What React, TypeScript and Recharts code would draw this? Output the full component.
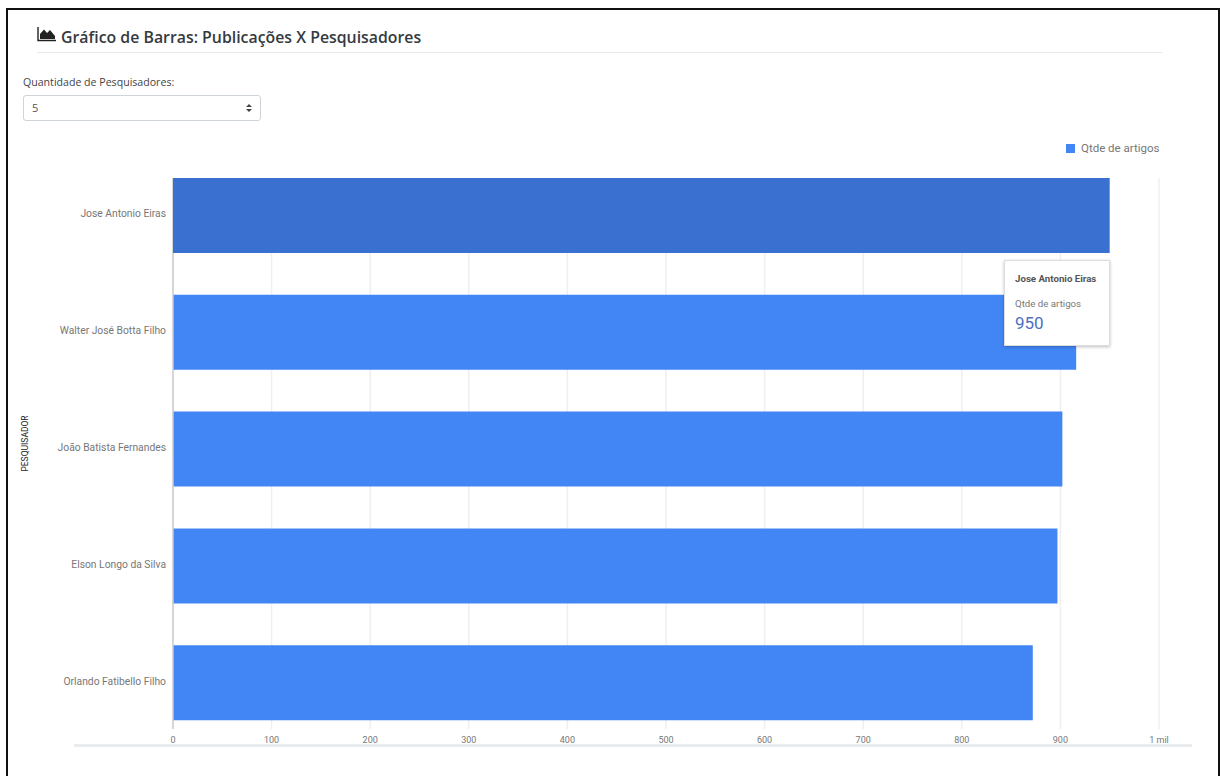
import React from "react";
import {
  BarChart,
  Bar,
  CartesianGrid,
  Legend,
  Tooltip,
  XAxis,
  YAxis,
} from "recharts";

const researchers = [
  "Jose Antonio Eiras",
  "Walter José Botta Filho",
  "João Batista Fernandes",
  "Elson Longo da Silva",
  "Orlando Fatibello Filho",
];
const articleCounts = [950, 916, 902, 897, 872];
const xTicks = [0, 100, 200, 300, 400, 500, 600, 700, 800, 900, 1000];

const SERIES_NAME = "Qtde de artigos";
const data = researchers.map((name, i) => ({
  name,
  [SERIES_NAME]: articleCounts[i],
}));

const formatTick = (v: number) => (v >= 1000 ? `${v / 1000} mil` : `${v}`);

// single-line names, the default tick wraps the longer ones
const NameTick = ({ x, y, payload }: any) => (
  <text
    x={x}
    y={y}
    dx={-1}
    dy={2}
    textAnchor="end"
    fontSize={10.3}
    fill="#777"
    fontFamily="Roboto">
    {payload.value}
  </text>
);

const ChartTooltip = ({ active, payload }: any) => {
  if (!active || !payload || !payload.length) return null;
  return (
    <div
      style={{
        width: 106,
        height: 86,
        boxSizing: "border-box",
        padding: "12px 10px",
        background: "#fff",
        border: "1px solid #ddd",
        boxShadow: "0 1px 3px rgba(0,0,0,0.25)",
        fontFamily: "Roboto",
      }}>
      <div style={{ fontSize: 9.7, fontWeight: 700, color: "#555", lineHeight: "12px" }}>
        {payload[0].payload.name}
      </div>
      <div style={{ fontSize: 9.7, color: "#777", marginTop: 13, lineHeight: "12px" }}>
        {payload[0].name}
      </div>
      <div style={{ fontSize: 17, color: "#4a70c4", lineHeight: "22px", marginTop: 2 }}>
        {payload[0].value}
      </div>
    </div>
  );
};

const AreaIcon = () => (
  <svg width="20" height="16" viewBox="0 0 20 16" style={{ marginRight: 4 }}>
    <path d="M1 1V14.5H19" fill="none" stroke="#222" strokeWidth="1.4" />
    <path d="M3 13V8L7 3.5L10 7L13 4L18 10V13Z" fill="#222" />
  </svg>
);

const App = () => {
  return (
    <div
      style={{
        position: "relative",
        width: 1220,
        height: 776,
        background: "#fff",
        overflow: "hidden",
      }}>
      <style>{"html,body{margin:0;overflow:hidden}"}</style>
      <div
        style={{
          position: "absolute",
          left: 6,
          top: 8,
          width: 1210,
          height: 780,
          border: "2px solid #111",
        }}
      />
      <BarChart
        width={1220}
        height={776}
        data={data}
        layout="vertical"
        barSize={75}
        margin={{ top: 178, right: 61, bottom: 27, left: 23 }}>
        <CartesianGrid horizontal={false} stroke="#efefef" strokeWidth={1.5} />
        <XAxis
          type="number"
          domain={[0, 1000]}
          ticks={xTicks}
          tickFormatter={formatTick}
          axisLine={false}
          tickLine={false}
          height={20}
          tick={{ fontSize: 9, fill: "#777", fontFamily: "Roboto" }}
        />
        <YAxis
          type="category"
          dataKey="name"
          width={150}
          padding={{ top: -21, bottom: -12 }}
          axisLine={{ stroke: "#ccc", strokeWidth: 1.5 }}
          tickLine={false}
          interval={0}
          tickMargin={0}
          tick={<NameTick />}
          label={{
            value: "PESQUISADOR",
            angle: -90,
            position: "insideLeft",
            offset: 0,
            dx: 2,
            dy: -10,
            style: { fontSize: 8.5, fill: "#222", fontFamily: "Roboto", textAnchor: "middle" },
          }}
        />
        <Tooltip
          defaultIndex={0}
          cursor={false}
          content={<ChartTooltip />}
          position={{ x: 1004, y: 260 }}
          isAnimationActive={false}
          wrapperStyle={{ outline: "none" }}
        />
        <Legend
          layout="vertical"
          align="center"
          verticalAlign="middle"
          iconType="square"
          iconSize={9}
          formatter={(value: string) => (
            <span style={{ color: "#777", fontSize: 11.5, fontFamily: "Roboto", marginLeft: 2 }}>
              {value}
            </span>
          )}
          wrapperStyle={{ position: "absolute", left: 1066, top: 138, width: 110, height: 18 }}
        />
        <Bar
          dataKey={SERIES_NAME}
          fill="#4285f4"
          activeBar={{ fill: "#3a71d0" }}
          isAnimationActive={false}
        />
      </BarChart>
      <div
        style={{
          position: "absolute",
          left: 74,
          top: 744,
          width: 1118,
          height: 3,
          background: "#e9ecef",
        }}
      />
      <div
        style={{
          position: "absolute",
          left: 37,
          top: 26,
          width: 1125,
          height: 26,
          borderBottom: "1.5px solid #e8e8e8",
          display: "flex",
          alignItems: "flex-start",
          fontFamily: "Open Sans",
          fontSize: 15.85,
          fontWeight: 600,
          color: "#343a40",
          lineHeight: "22px",
        }}>
        <AreaIcon />
        Gráfico de Barras: Publicações X Pesquisadores
      </div>
      <div
        style={{
          position: "absolute",
          left: 23,
          top: 75,
          fontFamily: "Open Sans",
          fontSize: 10.6,
          color: "#444",
          lineHeight: "15px",
        }}>
        Quantidade de Pesquisadores:
      </div>
      <div
        style={{
          position: "absolute",
          left: 23,
          top: 95,
          width: 238,
          height: 26,
          boxSizing: "border-box",
          border: "1px solid #ced4da",
          borderRadius: 3,
          padding: "0 8px",
          fontFamily: "Open Sans",
          fontSize: 11,
          color: "#555",
          lineHeight: "24px",
        }}>
        5
        <svg
          width="6"
          height="8"
          viewBox="0 0 6 8"
          style={{ position: "absolute", right: 8, top: 8 }}>
          <path d="M3 0L6 3H0ZM3 8L0 5H6Z" fill="#444" />
        </svg>
      </div>
    </div>
  );
};

export default App;
